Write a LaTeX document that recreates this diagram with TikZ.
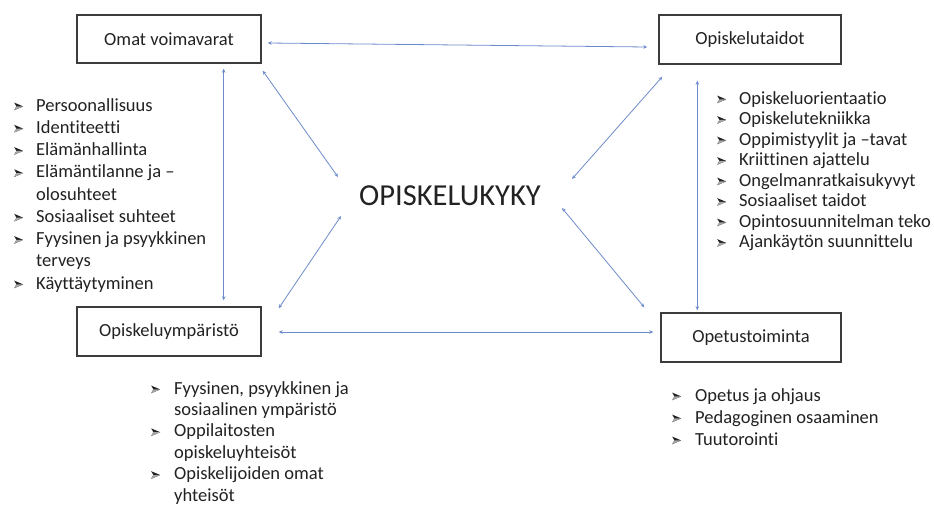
\documentclass[tikz,border=0pt]{standalone}
\usepackage{fontspec}
\setmainfont[Ligatures=NoCommon]{Carlito}
\usetikzlibrary{calc,arrows.meta}
\definecolor{txt}{HTML}{222222}
\definecolor{boxc}{HTML}{3C3C3C}
\definecolor{arr}{HTML}{6E8CCB}
\newcommand{\bul}{\tikz[x=1pt,y=1pt,baseline=0pt]{\fill[txt] (0,0.8)--(9,4.6)--(0,8.4)--(2.2,4.6)--cycle;\fill[gray!70] (0,0.8)--(9,4.6)--(2.2,4.6)--cycle;}}
\tikzset{
  boxnode/.style={draw=boxc, line width=1.4pt, minimum width=184pt, minimum height=48pt, inner sep=0pt, font=\fontsize{18.5}{22}\selectfont, text=txt},
  link/.style={draw=arr, line width=0.8pt, {Stealth[length=4pt,width=3.5pt]}-{Stealth[length=4pt,width=3.5pt]}},
  listnode/.style={anchor=base west, inner sep=0pt, text=txt}
}
\begin{document}
\begin{tikzpicture}[x=1pt,y=-1pt]
\useasboundingbox[fill=white] (0,0) rectangle (934,504);
% boxes
\node[boxnode] (omat) at (169,39) {Omat voimavarat};
\node[boxnode, minimum width=182pt, minimum height=49pt] (taidot) at (750,39.5) {Opiskelutaidot};
\node[boxnode, minimum height=49pt] (ymp) at (169,331.5) {Opiskeluympäristö};
\node[boxnode, minimum width=180pt, minimum height=49pt] (opet) at (751,337.5) {Opetustoiminta};
\node[inner sep=0pt, text=txt, font=\fontsize{30.5}{34}\selectfont] (kyky) at (450,196) {OPISKELUKYKY};
% connector end points
\coordinate (t1) at ($(omat.east)+(6,4)$);
\coordinate (t2) at ($(taidot.west)+(-11,7.5)$);
\coordinate (l1) at ($(omat.south east)+(-38,5)$);
\coordinate (l2) at ($(ymp.north east)+(-38,-6)$);
\coordinate (ul1) at ($(omat.south east)+(1,7)$);
\coordinate (ul2) at ($(kyky.center)+(-112,-19)$);
\coordinate (ll1) at ($(kyky.center)+(-109,20)$);
\coordinate (ll2) at ($(ymp.north east)+(17,2)$);
\coordinate (ur1) at ($(taidot.south west)+(4,12)$);
\coordinate (ur2) at ($(kyky.center)+(122,-17)$);
\coordinate (lr1) at ($(kyky.center)+(112,12)$);
\coordinate (lr2) at ($(opet.north west)+(-16,-5)$);
\coordinate (r1) at ($(taidot.south west)+(39,16)$);
\coordinate (r2) at ($(opet.north west)+(37,-2)$);
\coordinate (b1) at ($(ymp.east)+(17,0.5)$);
\coordinate (b2) at ($(opet.west)+(-7,-5.5)$);
% connectors
\draw[link] (t1) -- (t2);
\draw[link] (l1) -- (l2);
\draw[link] (ul1) -- (ul2);
\draw[link] (ll1) -- (ll2);
\draw[link] (ur1) -- (ur2);
\draw[link] (lr1) -- (lr2);
\draw[link] (r1) -- (r2);
\draw[link] (b1) -- (b2);
% lists
\node[listnode] (listomat) at (14,111) {\fontsize{18.5}{22.25}\selectfont
\begin{tabular}[t]{@{}p{22pt}@{}l@{}}
\bul & Persoonallisuus\\
\bul & Identiteetti\\
\bul & Elämänhallinta\\
\bul & Elämäntilanne ja –\\
 & olosuhteet\\
\bul & Sosiaaliset suhteet\\
\bul & Fyysinen ja psyykkinen\\
 & terveys\\
\bul & Käyttäytyminen
\end{tabular}};
\node[listnode] (listtaidot) at (717,104) {\fontsize{18.5}{20.5}\selectfont
\begin{tabular}[t]{@{}p{22pt}@{}l@{}}
\bul & Opiskeluorientaatio\\
\bul & Opiskelutekniikka\\
\bul & Oppimistyylit ja –tavat\\
\bul & Kriittinen ajattelu\\
\bul & Ongelmanratkaisukyvyt\\
\bul & Sosiaaliset taidot\\
\bul & Opintosuunnitelman teko\\
\bul & Ajankäytön suunnittelu
\end{tabular}};
\node[listnode] (listymp) at (151,394) {\fontsize{18.5}{21.4}\selectfont
\begin{tabular}[t]{@{}p{23pt}@{}l@{}}
\bul & Fyysinen, psyykkinen ja\\
 & sosiaalinen ympäristö\\
\bul & Oppilaitosten\\
 & opiskeluyhteisöt\\
\bul & Opiskelijoiden omat\\
 & yhteisöt
\end{tabular}};
\node[listnode] (listopet) at (672,401) {\fontsize{18.5}{22}\selectfont
\begin{tabular}[t]{@{}p{23pt}@{}l@{}}
\bul & Opetus ja ohjaus\\
\bul & Pedagoginen osaaminen\\
\bul & Tuutorointi
\end{tabular}};
\end{tikzpicture}
\end{document}
